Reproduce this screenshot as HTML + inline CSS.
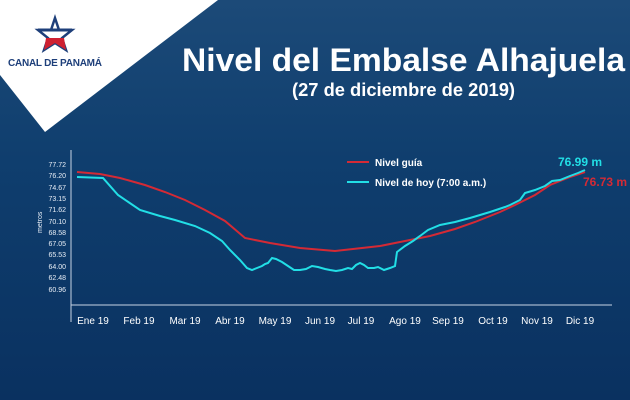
<!DOCTYPE html>
<html><head><style>
body{margin:0;width:630px;height:400px;overflow:hidden;}
svg{display:block;font-family:"Liberation Sans",sans-serif;}
</style></head><body>
<svg width="630" height="400" viewBox="0 0 630 400">
<defs>
<linearGradient id="bg" x1="0" y1="0" x2="0" y2="1">
<stop offset="0" stop-color="#1c4a78"/><stop offset="0.4" stop-color="#0f3e6e"/><stop offset="1" stop-color="#0a3160"/>
</linearGradient>
</defs>
<rect width="630" height="400" fill="url(#bg)"/>
<polygon points="0,0 218,0 45,132 0,75" fill="#ffffff"/>
<g transform="translate(55,35)">
<polygon points="0,-17 4,-5 17,-5 7,3 11,15 0,8 -11,15 -7,3 -17,-5 -4,-5" fill="none" stroke="#1e3f7a" stroke-width="2.5"/>
<path d="M-17,-5 L17,-5" stroke="#1e3f7a" stroke-width="3"/>
<path d="M-9,3 L9,3 L11,15 L0,8 L-11,15Z" fill="#cf2030"/>
</g>
<text x="8" y="66" font-size="10" font-weight="bold" fill="#1e3f7a" textLength="94">CANAL DE PANAMÁ</text>
<text x="182" y="71" font-size="32" font-weight="bold" fill="#fff" textLength="443" lengthAdjust="spacingAndGlyphs">Nivel del Embalse Alhajuela</text>
<text x="292" y="96" font-size="18" font-weight="bold" fill="#fff" textLength="223" lengthAdjust="spacingAndGlyphs">(27 de diciembre de 2019)</text>
<line x1="71" y1="150" x2="71" y2="322" stroke="#c8d4e4" stroke-width="1"/>
<line x1="71" y1="305" x2="612" y2="305" stroke="#c8d4e4" stroke-width="1"/>
<g font-size="7" fill="#e8eef6" text-anchor="end">
<text x="66" y="167">77.72</text><text x="66" y="178">76.20</text><text x="66" y="190">74.67</text><text x="66" y="201">73.15</text><text x="66" y="212">71.62</text><text x="66" y="224">70.10</text><text x="66" y="235">68.58</text><text x="66" y="246">67.05</text><text x="66" y="257">65.53</text><text x="66" y="269">64.00</text><text x="66" y="280">62.48</text><text x="66" y="292">60.96</text>
</g>
<text x="0" y="0" font-size="7" fill="#e8eef6" transform="translate(42,233) rotate(-90)">metros</text>
<g font-size="10" fill="#fff" text-anchor="middle">
<text x="93" y="324">Ene 19</text><text x="139" y="324">Feb 19</text><text x="185" y="324">Mar 19</text><text x="230" y="324">Abr 19</text><text x="275" y="324">May 19</text><text x="320" y="324">Jun 19</text><text x="361" y="324">Jul 19</text><text x="405" y="324">Ago 19</text><text x="448" y="324">Sep 19</text><text x="493" y="324">Oct 19</text><text x="537" y="324">Nov 19</text><text x="580" y="324">Dic 19</text>
</g>
<polyline fill="none" stroke="#d42a35" stroke-width="2" points="77,172 100,174 120,178 145,185 165,192 185,200 205,210 225,221 245,238 270,243 300,248 335,251 380,246 410,240 430,236 455,229 475,222 500,212 515,205 535,195 550,185 570,177 585,172"/>
<polyline fill="none" stroke="#22dfe6" stroke-width="2" points="77,177 103,178 118,195 140,210 160,216 175,220 195,226 210,233 222,241 230,250 240,260 247,268 252,270 257,268 262,266 265,264 268,263 272,258 276,259 282,262 288,266 294,270 300,270 306,269 312,266 318,267 325,269 330,270 336,271 342,270 348,268 352,269 356,265 360,263 364,265 368,268 374,268 378,267 384,270 390,268 395,266 397,252 405,246 413,241 420,236 428,230 440,225 455,222 470,218 490,212 505,207 510,205 520,200 525,193 535,190 545,186 552,181 560,180 570,176 578,173 585,170"/>
<line x1="347" y1="162" x2="369" y2="162" stroke="#d42a35" stroke-width="2"/>
<line x1="347" y1="182" x2="369" y2="182" stroke="#22dfe6" stroke-width="2"/>
<text x="375" y="166" font-size="10" font-weight="bold" fill="#fff">Nivel guía</text>
<text x="375" y="186" font-size="10" font-weight="bold" fill="#fff">Nivel de hoy (7:00 a.m.)</text>
<text x="558" y="166" font-size="12" font-weight="bold" fill="#22dfe6">76.99 m</text>
<text x="583" y="186" font-size="12" font-weight="bold" fill="#d42a35">76.73 m</text>
</svg>
</body></html>
